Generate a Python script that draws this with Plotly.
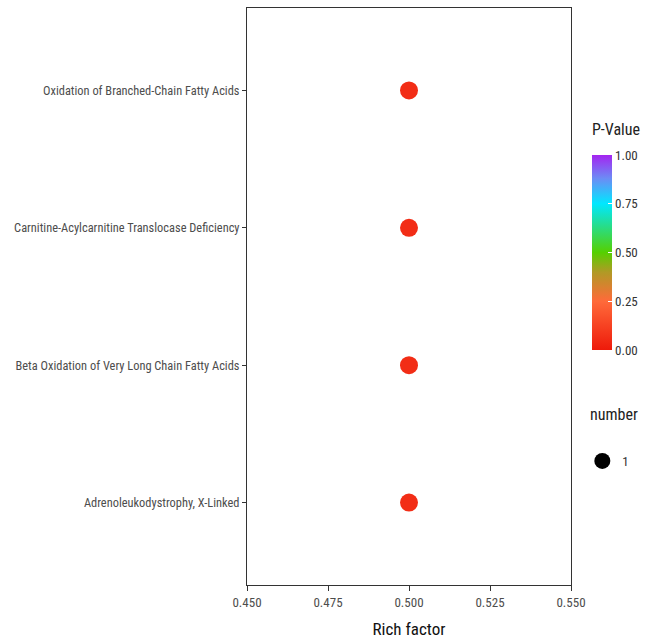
import plotly.graph_objects as go

pathways = [
    "Adrenoleukodystrophy, X-Linked",
    "Beta Oxidation of Very Long Chain Fatty Acids",
    "Carnitine-Acylcarnitine Translocase Deficiency",
    "Oxidation of Branched-Chain Fatty Acids",
]
rich_factor = [0.5, 0.5, 0.5, 0.5]
p_values = [0.06, 0.06, 0.06, 0.06]
numbers = [1, 1, 1, 1]
x_ticks = [0.450, 0.475, 0.500, 0.525, 0.550]
cbar_ticks = [0.0, 0.25, 0.5, 0.75, 1.0]

font_family = "Roboto Condensed, Liberation Sans Narrow, Arial Narrow, Liberation Sans, sans-serif"

colorscale = [
    [0.0, "#EE1A0A"],
    [0.25, "#FF6A3A"],
    [0.4, "#B09A25"],
    [0.5, "#55D000"],
    [0.75, "#00E8FF"],
    [0.88, "#6C8CF5"],
    [1.0, "#A424F0"],
]

fig = go.Figure()
fig.add_trace(go.Scatter(
    x=rich_factor, y=pathways, mode="markers", showlegend=False,
    marker=dict(
        size=[18 * n for n in numbers], color=p_values, colorscale=colorscale,
        cmin=0, cmax=1, opacity=1, line=dict(width=0),
        colorbar=dict(
            tickvals=cbar_ticks, ticktext=[f"{v:.2f}" for v in cbar_ticks],
            tickfont=dict(size=13, color="#333", family=font_family),
            ticks="inside", tickcolor="white", ticklen=4,
            thickness=20, len=195, lenmode="pixels",
            x=1.065, xanchor="left", xpad=0, ypad=0,
            y=0.745, yanchor="top",
            outlinewidth=0,
        ),
    ),
    hovertemplate="%{y}<br>Rich factor %{x}<extra></extra>",
))
fig.add_trace(go.Scatter(
    x=[None], y=[None], mode="markers", name=str(numbers[0]),
    marker=dict(size=18, color="black"), showlegend=True,
))

fig.update_layout(
    width=652, height=642,
    margin=dict(l=247, r=81, t=8, b=57),
    paper_bgcolor="white", plot_bgcolor="white",
    font=dict(family=font_family),
    legend=dict(
        font=dict(size=13, color="#333", family=font_family),
        x=1.035, xanchor="left", y=0.215, yanchor="middle",
        itemwidth=30, bgcolor="rgba(0,0,0,0)",
    ),
    annotations=[
        dict(text="P-Value", x=1.058, y=0.789, xref="paper", yref="paper",
             xanchor="left", yanchor="middle", showarrow=False,
             font=dict(size=16, color="#222", family=font_family)),
        dict(text="number", x=1.052, y=0.295, xref="paper", yref="paper",
             xanchor="left", yanchor="middle", showarrow=False,
             font=dict(size=16, color="#222", family=font_family)),
    ],
)
fig.update_xaxes(
    range=[0.45, 0.55], tickvals=x_ticks, ticktext=[f"{v:.3f}" for v in x_ticks],
    showgrid=False, zeroline=False, showline=True, linecolor="#333", linewidth=1,
    mirror=True, ticks="outside", ticklen=5, tickcolor="#333",
    tickfont=dict(size=13, color="#4d4d4d", family=font_family),
    title=dict(text="Rich factor", font=dict(size=17, color="#111", family=font_family), standoff=14),
    automargin=False,
)
fig.update_yaxes(
    categoryorder="array", categoryarray=pathways, range=[-0.6, 3.6],
    showgrid=False, zeroline=False, showline=True, linecolor="#333", linewidth=1,
    mirror=True, ticks="outside", ticklen=4, tickcolor="#333",
    tickfont=dict(size=12.4, color="#4d4d4d", family=font_family),
    automargin=False,
)

fig.write_html(
    "out.html",
    config={"displayModeBar": False},
    post_script="document.body.style.margin='0px';document.body.style.padding='0px';",
)
